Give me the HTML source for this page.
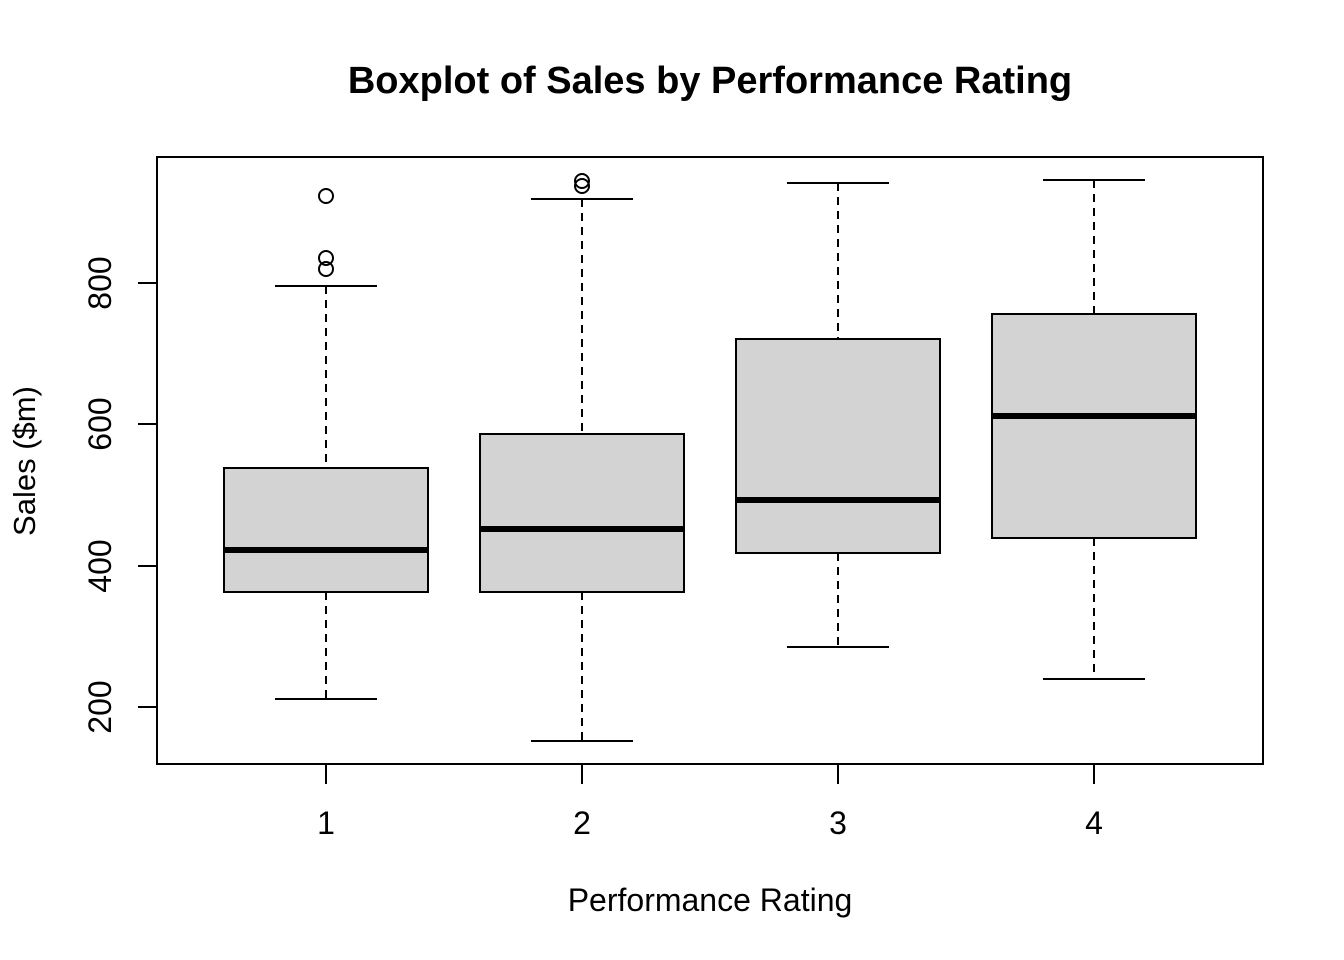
<!DOCTYPE html>
<html><head><style>body{margin:0;background:#fff}svg{display:block}</style></head><body>
<svg width="1344" height="960" xmlns="http://www.w3.org/2000/svg" font-family="Liberation Sans, Arial, sans-serif">
<rect width="1344" height="960" fill="#fff"/>
<text x="710" y="93" text-anchor="middle" font-size="38" font-weight="bold">Boxplot of Sales by Performance Rating</text>
<text x="710" y="911" text-anchor="middle" font-size="32">Performance Rating</text>
<text transform="translate(35,461) rotate(-90)" text-anchor="middle" font-size="31">Sales ($m)</text>
<g stroke="#000" stroke-width="2" fill="none">
<rect x="157" y="157" width="1106" height="607"/>
<path d="M138 283H157M138 424H157M138 566H157M138 707H157"/>
<path d="M326 764V784M582 764V784M838 764V784M1094 764V784"/>
</g>
<g font-size="32" text-anchor="middle">
<text transform="translate(111,283) rotate(-90)">800</text>
<text transform="translate(111,424) rotate(-90)">600</text>
<text transform="translate(111,566) rotate(-90)">400</text>
<text transform="translate(111,707) rotate(-90)">200</text>
<text x="326" y="834">1</text><text x="582" y="834">2</text><text x="838" y="834">3</text><text x="1094" y="834">4</text>
</g>
<g stroke="#000" stroke-width="2">
<g stroke-dasharray="8,6">
<path d="M326 286V468M326 592V699"/>
<path d="M582 199V434M582 592V741"/>
<path d="M838 183V339M838 553V647"/>
<path d="M1094 180V314M1094 538V679"/>
</g>
<path d="M275 286H377M275 699H377M531 199H633M531 741H633M787 183H889M787 647H889M1043 180H1145M1043 679H1145"/>
<rect x="224" y="468" width="204" height="124" fill="#d3d3d3"/>
<rect x="480" y="434" width="204" height="158" fill="#d3d3d3"/>
<rect x="736" y="339" width="204" height="214" fill="#d3d3d3"/>
<rect x="992" y="314" width="204" height="224" fill="#d3d3d3"/>
<path stroke-width="6" d="M224 550H428M480 529H684M736 500H940M992 416H1196"/>
<g fill="none">
<circle cx="326" cy="196" r="7"/><circle cx="326" cy="258" r="7"/><circle cx="326" cy="269" r="7"/>
<circle cx="582" cy="181" r="7"/><circle cx="582" cy="186" r="7"/>
</g>
</g>
</svg>
</body></html>
